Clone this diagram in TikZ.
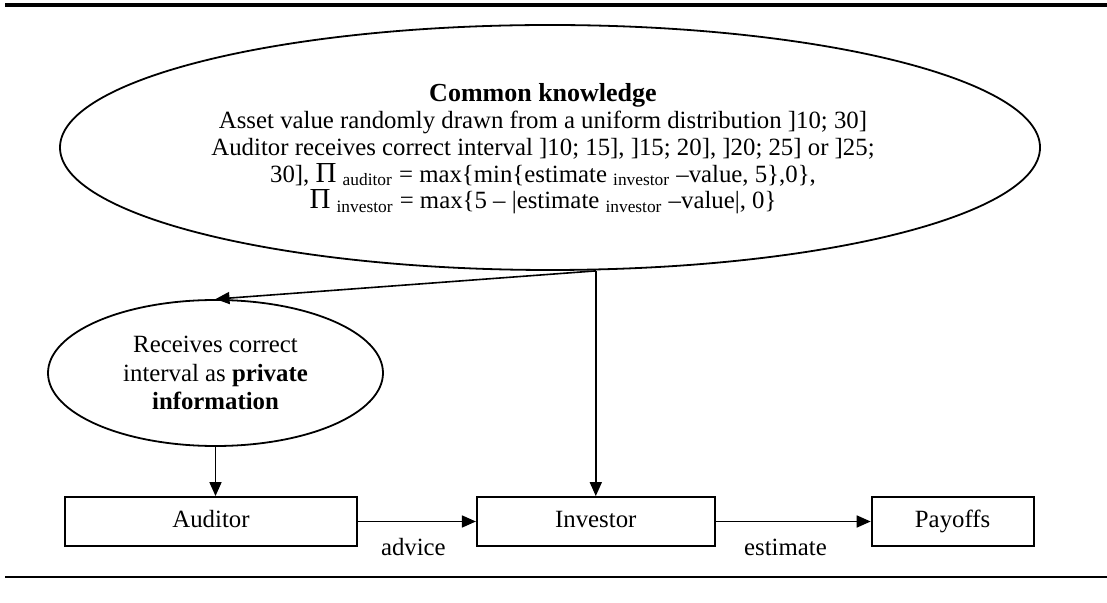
\documentclass[tikz,border=0pt]{standalone}
\usepackage{fontspec}
\setmainfont{Liberation Serif}
\usetikzlibrary{shapes.geometric}
\usetikzlibrary{arrows.meta}
\usetikzlibrary{positioning}

\newcommand{\bigpi}{{\fontsize{14.5}{13.4}\selectfont Π}}

\tikzset{
	oval/.style={ellipse, draw, line width=0.9pt, inner sep=0pt},
	stagebox/.style={rectangle, draw, line width=0.9pt, minimum height=24.5pt, inner sep=0pt,
		text height=1.6ex, text depth=0.4ex},
	flow/.style={-{Triangle[length=7pt, width=6pt]}, line width=0.8pt}
}

\begin{document}
\begin{tikzpicture}[x=0.5pt, y=-0.5pt, font=\fontsize{12.4}{13}\selectfont]
		\useasboundingbox (0,0) rectangle (1107,603);
		% rules at top and bottom
		\draw[line width=2pt] (5,5) -- (1107,5);
		\draw[line width=0.8pt] (5,577) -- (1107,577);
		% what everybody knows
		\node[oval, minimum width=490pt, minimum height=122.5pt] (common) at (550,147.5) {};
		\node[align=center, font=\fontsize{12.4}{13.4}\selectfont] (commontext) at (543,149)
			{{\fontsize{13}{13.4}\selectfont\textbf{Common knowledge}}\\
			Asset value randomly drawn from a uniform distribution ]10; 30]\\
			Auditor receives correct interval ]10; 15], ]15; 20], ]20; 25] or ]25;\\
			30], \bigpi\ \textsubscript{auditor} = max\{min\{estimate \textsubscript{investor} –value, 5\},0\},\\
			\bigpi\ \textsubscript{investor} = max\{5 – |estimate \textsubscript{investor} –value|, 0\}};
		\node[oval, minimum width=167.5pt, minimum height=73pt, align=center,
			font=\fontsize{12.4}{14.2}\selectfont] (private) at (215.5,373)
			{Receives correct\\ interval as \textbf{private}\\ \textbf{information}};
		% the three stages
		\node[stagebox, minimum width=146pt] (auditor) at (211,521.5) {Auditor};
		\node[stagebox, minimum width=119pt, right=59pt of auditor] (investor) {Investor};
		\node[stagebox, minimum width=81pt, right=77.5pt of investor] (payoffs) {Payoffs};
		\coordinate (split) at (investor.north |- common.south);
		\draw[flow] (split) -- (private.north);
		\draw[flow] (split) -- (investor.north);
		\draw[flow] (private.south) -- (private.south |- auditor.north);
		\draw[flow] (auditor) -- node[pos=0.47, yshift=-13pt] {advice} (investor);
		\draw[flow] (investor) -- node[pos=0.45, yshift=-13pt] {estimate} (payoffs);
	\end{tikzpicture}
\end{document}
